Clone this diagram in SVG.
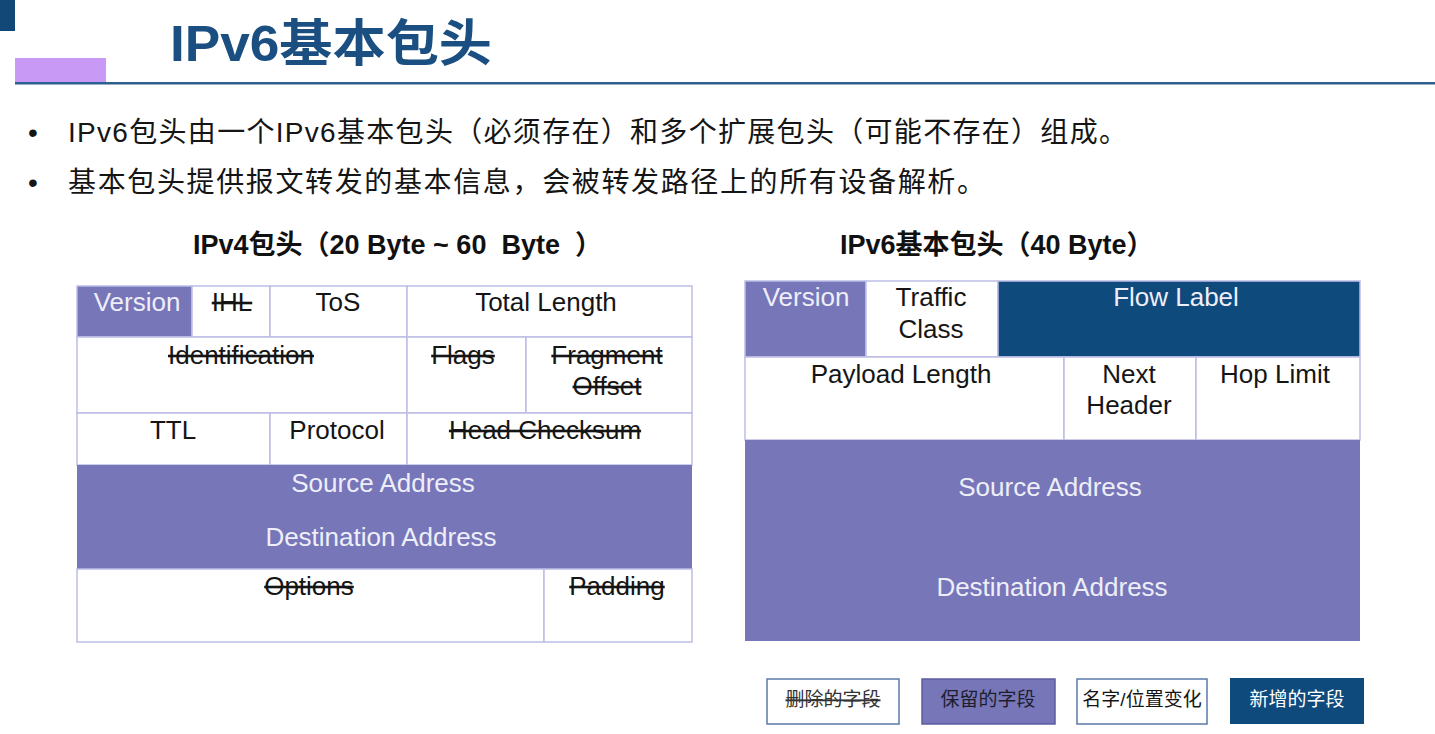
<svg xmlns="http://www.w3.org/2000/svg" width="1435" height="734" viewBox="0 0 1435 734">
<style>
.t{font-family:"Liberation Sans","Noto Sans CJK SC",sans-serif;}
.cell{font-family:"Liberation Sans",Arial,sans-serif;font-size:26px;text-anchor:middle;fill:#151515;}
.w{fill:#eeeef8;}
.del{text-decoration:line-through;}
.grid{fill:#ffffff;stroke:#bdbde6;stroke-width:1.5;}
.pur{fill:#7676b9;stroke:#bdbde6;stroke-width:1.5;}
.dk{fill:#0f4a7d;stroke:#bdbde6;stroke-width:1.5;}
.bul{font-family:"Liberation Sans","Noto Sans CJK SC",sans-serif;font-size:28px;fill:#151515;}
.hd{font-family:"Liberation Sans","Noto Sans CJK SC",sans-serif;font-size:27px;font-weight:bold;fill:#111;white-space:pre;}
.lg{font-family:"Liberation Sans","Noto Sans CJK SC",sans-serif;font-size:19px;text-anchor:middle;}
</style>
<rect width="1435" height="734" fill="#ffffff"/>
<g id="header">
<rect x="0" y="0" width="15" height="31" fill="#124878"/>
<rect x="15" y="58" width="91" height="25" fill="#c99af5"/>
<rect x="15" y="82" width="1420" height="2.5" fill="#2d5f8f"/>
<text x="170" y="61" class="t" font-size="50" font-weight="bold" fill="#1b4f82" textLength="322" lengthAdjust="spacingAndGlyphs">IPv6基本包头</text>
</g>
<g id="bullets">
<text x="28" y="142" class="bul">•</text>
<text x="68" y="142" class="bul" textLength="1059" lengthAdjust="spacing">IPv6包头由一个IPv6基本包头（必须存在）和多个扩展包头（可能不存在）组成。</text>
<text x="28" y="192" class="bul">•</text>
<text x="68" y="192" class="bul" textLength="917" lengthAdjust="spacing">基本包头提供报文转发的基本信息，会被转发路径上的所有设备解析。</text>
</g>
<g id="ipv4-title"><text x="193" y="254" class="hd">IPv4包头（20 Byte ~ 60  Byte  ）</text></g>
<g id="ipv6-title"><text x="840" y="254" class="hd">IPv6基本包头（40 Byte）</text></g>
<g id="ipv4-header">
<g id="v4-version"><rect x="77" y="286" width="115" height="51" class="pur"/><text x="137" y="311" class="cell w">Version</text></g>
<g id="v4-ihl"><rect x="192" y="286" width="78" height="51" class="grid"/><text x="232" y="311" class="cell del">IHL</text></g>
<g id="v4-tos"><rect x="270" y="286" width="137" height="51" class="grid"/><text x="338" y="311" class="cell">ToS</text></g>
<g id="v4-totallength"><rect x="407" y="286" width="285" height="51" class="grid"/><text x="546" y="311" class="cell">Total Length</text></g>
<g id="v4-identification"><rect x="77" y="337" width="330" height="76" class="grid"/><text x="241" y="364" class="cell del">Identification</text></g>
<g id="v4-flags"><rect x="407" y="337" width="119" height="76" class="grid"/><text x="463" y="364" class="cell del">Flags</text></g>
<g id="v4-fragment"><rect x="526" y="337" width="166" height="76" class="grid"/><text x="607" y="364" class="cell del">Fragment</text><text x="607" y="395" class="cell del">Offset</text></g>
<g id="v4-ttl"><rect x="77" y="413" width="193" height="52" class="grid"/><text x="173" y="439" class="cell">TTL</text></g>
<g id="v4-protocol"><rect x="270" y="413" width="137" height="52" class="grid"/><text x="337" y="439" class="cell">Protocol</text></g>
<g id="v4-checksum"><rect x="407" y="413" width="285" height="52" class="grid"/><text x="545" y="439" class="cell del">Head Checksum</text></g>
<g id="v4-addresses"><rect x="77" y="465" width="615" height="104" fill="#7676b9"/><text x="383" y="492" class="cell w">Source Address</text><text x="381" y="546" class="cell w">Destination Address</text></g>
<g id="v4-options"><rect x="77" y="569" width="467" height="73" class="grid"/><text x="309" y="595" class="cell del">Options</text></g>
<g id="v4-padding"><rect x="544" y="569" width="148" height="73" class="grid"/><text x="617" y="595" class="cell del">Padding</text></g>
</g>
<g id="ipv6-header">
<g id="v6-version"><rect x="745" y="281" width="121" height="76" class="pur"/><text x="806" y="306" class="cell w">Version</text></g>
<g id="v6-trafficclass"><rect x="866" y="281" width="132" height="76" class="grid"/><text x="931" y="306" class="cell">Traffic</text><text x="931" y="338" class="cell">Class</text></g>
<g id="v6-flowlabel"><rect x="998" y="281" width="362" height="76" class="dk"/><text x="1176" y="306" class="cell w">Flow Label</text></g>
<g id="v6-payload"><rect x="745" y="357" width="319" height="83" class="grid"/><text x="901" y="383" class="cell">Payload Length</text></g>
<g id="v6-nextheader"><rect x="1064" y="357" width="132" height="83" class="grid"/><text x="1129" y="383" class="cell">Next</text><text x="1129" y="414" class="cell">Header</text></g>
<g id="v6-hoplimit"><rect x="1196" y="357" width="164" height="83" class="grid"/><text x="1275" y="383" class="cell">Hop Limit</text></g>
<g id="v6-addresses"><rect x="745" y="440" width="615" height="201" fill="#7676b9"/><text x="1050" y="496" class="cell w">Source Address</text><text x="1052" y="596" class="cell w">Destination Address</text></g>
</g>
<g id="legend">
<g id="lg-deleted"><rect x="767" y="679" width="132" height="45" fill="#ffffff" stroke="#5a7aa8" stroke-width="1.5"/><text x="833" y="706" class="lg del" fill="#333">删除的字段</text></g>
<g id="lg-kept"><rect x="922" y="679" width="133" height="45" fill="#7676b9" stroke="#5c5ca0" stroke-width="1.5"/><text x="988" y="706" class="lg" fill="#1e1e2e">保留的字段</text></g>
<g id="lg-changed"><rect x="1077" y="679" width="130" height="45" fill="#ffffff" stroke="#5a7aa8" stroke-width="1.5"/><text x="1142" y="706" class="lg" fill="#151515">名字/位置变化</text></g>
<g id="lg-new"><rect x="1230" y="678" width="134" height="46" fill="#0f4a7d"/><text x="1297" y="706" class="lg" fill="#ffffff">新增的字段</text></g>
</g>
<g id="connectors"/>
</svg>
